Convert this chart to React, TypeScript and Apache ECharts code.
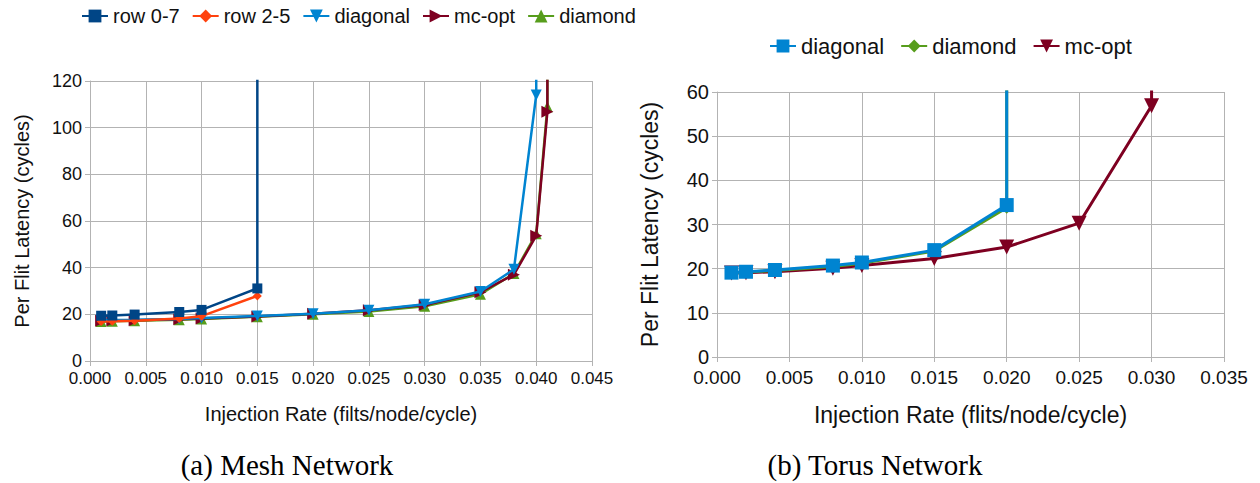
import React, { useEffect, useRef } from "react";
import * as echarts from "echarts";

// ---------- Data: (a) Mesh Network ----------
const meshRow07X = [0.001, 0.002, 0.004, 0.008, 0.01, 0.015, 0.015];
const meshRow07Y = [19.4, 19.5, 19.9, 21.0, 21.9, 31.1, 1000];
const meshRow25X = [0.001, 0.002, 0.004, 0.008, 0.01, 0.015];
const meshRow25Y = [16.9, 17.0, 17.3, 18.2, 19.2, 27.9];
const meshDiagonalX = [0.001, 0.002, 0.004, 0.008, 0.01, 0.015, 0.02, 0.025, 0.03, 0.035, 0.038, 0.04, 0.04];
const meshDiagonalY = [17.6, 17.6, 17.7, 18.0, 18.4, 19.3, 20.3, 21.8, 24.3, 29.8, 39.3, 114, 1000];
const meshMcOptX = [0.001, 0.002, 0.004, 0.008, 0.01, 0.015, 0.02, 0.025, 0.03, 0.035, 0.038, 0.04, 0.041, 0.041];
const meshMcOptY = [17.3, 17.4, 17.5, 17.9, 18.2, 19.1, 20.3, 21.7, 24.0, 29.5, 37.0, 53.7, 106.8, 1000];
const meshDiamondX = [0.001, 0.002, 0.004, 0.008, 0.01, 0.015, 0.02, 0.025, 0.03, 0.035, 0.038, 0.04, 0.041, 0.041];
const meshDiamondY = [16.9, 17.0, 17.2, 17.7, 18.0, 19.0, 20.0, 21.2, 23.5, 28.6, 37.5, 54.5, 109, 1000];

// ---------- Data: (b) Torus Network ----------
const torusDiagonalX = [0.001, 0.002, 0.004, 0.008, 0.01, 0.015, 0.02, 0.02];
const torusDiagonalY = [19.1, 19.3, 19.7, 20.7, 21.4, 24.2, 34.4, 1000];
const torusDiamondX = [0.001, 0.002, 0.004, 0.008, 0.01, 0.015, 0.02, 0.02];
const torusDiamondY = [19.0, 19.2, 19.6, 20.5, 21.2, 24.0, 33.8, 1000];
const torusMcOptX = [0.001, 0.002, 0.004, 0.008, 0.01, 0.015, 0.02, 0.025, 0.03, 0.03];
const torusMcOptY = [19.0, 19.1, 19.3, 20.1, 20.7, 22.3, 24.9, 30.3, 56.9, 1000];

const meshLegend = ["row 0-7", "row 2-5", "diagonal", "mc-opt", "diamond"];
const torusLegend = ["diagonal", "diamond", "mc-opt"];

const COLORS: Record<string, string> = {
  "row 0-7": "#004586",
  "row 2-5": "#ff420e",
  diagonal: "#0084d1",
  "mc-opt": "#7e0021",
  diamond: "#579d1c",
};

const FONT = '"Liberation Sans", Arial, sans-serif';
const SERIF = '"Liberation Serif", "Times New Roman", serif';
const GRID_COLOR = "#b3b3b3";
const TEXT = "#111";

function line(
  name: string,
  xs: number[],
  ys: number[],
  symbol: string,
  rotate: number,
  size: number,
  width: number,
  z: number
) {
  const color = COLORS[name];
  return {
    type: "line",
    name,
    data: xs.map((x, i) => [x, ys[i]]),
    symbol,
    symbolRotate: rotate,
    symbolSize: size,
    showAllSymbol: true,
    clip: true,
    z,
    lineStyle: { color, width },
    itemStyle: { color },
    emphasis: { disabled: true },
  };
}

function axes(
  xMax: number,
  yMax: number,
  yInterval: number,
  fs: number,
  xName: string,
  xNameGap: number,
  yNameGap: number,
  nameFs: number,
  xMargin: number
) {
  const axisLine = { show: true, lineStyle: { color: GRID_COLOR, width: 1 } };
  const axisTick = { show: true, length: 5, lineStyle: { color: GRID_COLOR } };
  const splitLine = { show: true, lineStyle: { color: GRID_COLOR, width: 1 } };
  return {
    xAxis: {
      type: "value",
      min: 0,
      max: xMax,
      interval: 0.005,
      axisLine,
      axisTick,
      splitLine,
      axisLabel: {
        fontSize: fs,
        color: TEXT,
        fontFamily: FONT,
        margin: xMargin,
        formatter: (v: number) => v.toFixed(3),
      },
      name: xName,
      nameLocation: "middle",
      nameGap: xNameGap,
      nameTextStyle: { fontSize: nameFs, color: TEXT, fontFamily: FONT },
    },
    yAxis: {
      type: "value",
      min: 0,
      max: yMax,
      interval: yInterval,
      axisLine,
      axisTick,
      splitLine,
      axisLabel: { fontSize: fs + 1, color: TEXT, fontFamily: FONT, margin: 8 },
      name: "Per Flit Latency (cycles)",
      nameLocation: "middle",
      nameGap: yNameGap,
      nameTextStyle: { fontSize: nameFs, color: TEXT, fontFamily: FONT },
    },
  };
}

function meshOption() {
  return {
    animation: false,
    backgroundColor: "transparent",
    textStyle: { fontFamily: FONT },
    legend: {
      data: meshLegend,
      left: 76,
      top: 1,
      width: 600,
      itemWidth: 26,
      itemHeight: 16,
      itemGap: 12,
      textStyle: { fontSize: 20, color: TEXT, fontFamily: FONT },
      selectedMode: false,
    },
    grid: { left: 90, top: 81, width: 502, height: 280, containLabel: false },
    ...axes(0.045, 120, 20, 17, "Injection Rate (filts/node/cycle)", 43, 58, 20, 9),
    series: [
      line("row 0-7", meshRow07X, meshRow07Y, "rect", 0, 10, 2.5, 6),
      line("row 2-5", meshRow25X, meshRow25Y, "diamond", 0, 9, 2.5, 5),
      line("diagonal", meshDiagonalX, meshDiagonalY, "triangle", 180, 11, 2.5, 4),
      line("mc-opt", meshMcOptX, meshMcOptY, "triangle", -90, 12, 2.5, 3),
      line("diamond", meshDiamondX, meshDiamondY, "triangle", 0, 11, 2.5, 2),
    ],
    graphic: [
      {
        type: "text",
        x: 287,
        y: 465,
        style: {
          text: "(a) Mesh Network",
          fontSize: 29,
          fontFamily: SERIF,
          fill: "#000",
          align: "center",
          verticalAlign: "middle",
        },
      },
    ],
  };
}

function torusOption() {
  return {
    animation: false,
    backgroundColor: "transparent",
    textStyle: { fontFamily: FONT },
    legend: {
      data: torusLegend,
      left: 134,
      top: 30,
      itemWidth: 26,
      itemHeight: 16,
      itemGap: 16,
      textStyle: { fontSize: 22, color: TEXT, fontFamily: FONT },
      selectedMode: false,
    },
    grid: { left: 86, top: 92, width: 508, height: 265, containLabel: false },
    ...axes(0.035, 60, 10, 19, "Injection Rate (flits/node/cycle)", 46, 56, 23, 11),
    series: [
      line("diagonal", torusDiagonalX, torusDiagonalY, "rect", 0, 14, 3, 4),
      line("diamond", torusDiamondX, torusDiamondY, "diamond", 0, 12, 3, 3),
      line("mc-opt", torusMcOptX, torusMcOptY, "triangle", 180, 15, 3, 2),
    ],
    graphic: [
      {
        type: "text",
        x: 245,
        y: 465,
        style: {
          text: "(b) Torus Network",
          fontSize: 29,
          fontFamily: SERIF,
          fill: "#000",
          align: "center",
          verticalAlign: "middle",
        },
      },
    ],
  };
}

function Chart({ option, left, width }: { option: any; left: number; width: number }) {
  const ref = useRef<HTMLDivElement>(null);
  useEffect(() => {
    if (!ref.current) return;
    const chart = echarts.init(ref.current, undefined, { renderer: "svg" });
    chart.setOption(option);
    return () => chart.dispose();
  }, [option]);
  return (
    <div
      ref={ref}
      style={{ position: "absolute", left, top: 0, width, height: 483 }}
    />
  );
}

const MESH = meshOption();
const TORUS = torusOption();

export default function App() {
  return (
    <div
      style={{
        position: "absolute",
        left: 0,
        top: 0,
        width: 1260,
        height: 483,
        background: "#fff",
        overflow: "hidden",
      }}
    >
      <Chart option={TORUS} left={630} width={630} />
      <Chart option={MESH} left={0} width={690} />
    </div>
  );
}
